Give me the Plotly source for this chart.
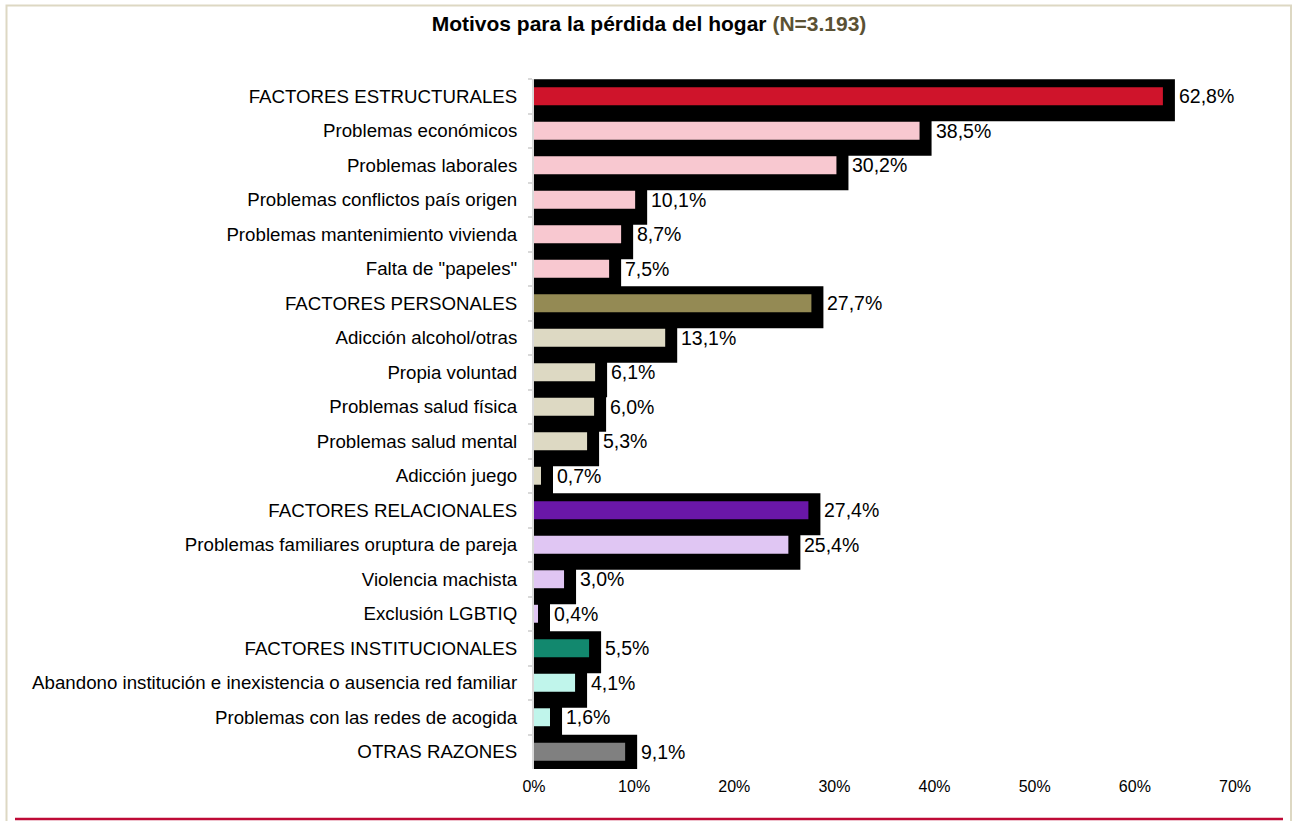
import plotly.graph_objects as go

# ---------------- data ----------------
categories = [
    "FACTORES ESTRUCTURALES",
    "Problemas económicos",
    "Problemas laborales",
    "Problemas conflictos país origen",
    "Problemas mantenimiento vivienda",
    'Falta de "papeles"',
    "FACTORES PERSONALES",
    "Adicción alcohol/otras",
    "Propia voluntad",
    "Problemas salud física",
    "Problemas salud mental",
    "Adicción juego",
    "FACTORES RELACIONALES",
    "Problemas familiares oruptura de pareja",
    "Violencia machista",
    "Exclusión LGBTIQ",
    "FACTORES INSTITUCIONALES",
    "Abandono institución e inexistencia o ausencia red familiar",
    "Problemas con las redes de acogida",
    "OTRAS RAZONES",
]
values = [62.8, 38.5, 30.2, 10.1, 8.7, 7.5,
          27.7, 13.1, 6.1, 6.0, 5.3, 0.7,
          27.4, 25.4, 3.0, 0.4,
          5.5, 4.1, 1.6,
          9.1]
groups = ["estr", "estr_s", "estr_s", "estr_s", "estr_s", "estr_s",
          "pers", "pers_s", "pers_s", "pers_s", "pers_s", "pers_s",
          "rel", "rel_s", "rel_s", "rel_s",
          "inst", "inst_s", "inst_s",
          "otras"]
x_ticks = [0, 10, 20, 30, 40, 50, 60, 70]
x_tick_text = [f"{t}%" for t in x_ticks]

# ---------------- style ----------------
group_colors = {
    "estr": "#cf142b", "estr_s": "#f8c8d0",
    "pers": "#948a54", "pers_s": "#ddd9c3",
    "rel": "#6a17a8", "rel_s": "#e0c6f3",
    "inst": "#12886e", "inst_s": "#c0f5eb",
    "otras": "#808080",
}
bar_colors = [group_colors[g] for g in groups]
SHADOW_DX = 1.2          # shadow extends this far (in axis units) past each bar
FONT = "Liberation Sans, Arial, sans-serif"

W, H = 1294, 821
L, R, T, B = 534, 59, 79, 52
PW, PH = W - L - R, H - T - B

def fx(px):
    return (px - L) / PW

def fy(py):
    return 1 - (py - T) / PH

labels = [f"{v:.1f}".replace(".", ",") + "%" for v in values]

fig = go.Figure()

# black shadow bars
fig.add_trace(go.Bar(
    y=categories, x=[v + SHADOW_DX for v in values], orientation="h",
    width=1.216, offset=-0.492,
    marker=dict(color="black", line=dict(width=0)),
    hoverinfo="skip", showlegend=False,
))
# coloured bars
fig.add_trace(go.Bar(
    y=categories, x=values, orientation="h",
    width=0.52, offset=-0.26,
    marker=dict(color=bar_colors, line=dict(width=0)),
    showlegend=False,
))

for c, v, t in zip(categories, values, labels):
    fig.add_annotation(
        x=v + SHADOW_DX, y=c, xref="x", yref="y",
        text=t, showarrow=False, xanchor="left", yanchor="middle",
        borderpad=0, xshift=3,
        font=dict(family=FONT, size=19.5, color="black"),
    )

# frame lines
fig.add_shape(type="path", xref="paper", yref="paper",
              path=f"M {fx(6.5)} {fy(823)} L {fx(6.5)} {fy(5.5)} L {fx(1291)} {fy(5.5)} L {fx(1291)} {fy(823)}",
              line=dict(color="#ddd8c3", width=2))
fig.add_shape(type="line", xref="paper", yref="paper",
              x0=fx(15), x1=fx(1283), y0=fy(819), y1=fy(819),
              line=dict(color="#be0a37", width=2.5))

fig.update_layout(
    width=W, height=H,
    margin=dict(l=L, r=R, t=T, b=B, autoexpand=False),
    paper_bgcolor="white", plot_bgcolor="white",
    barmode="overlay",
    font=dict(family=FONT, color="black"),
    title=dict(
        text="<b>Motivos para la pérdida del hogar <span style='color:#5a5134'>(N=3.193)</span></b>",
        x=(649 / W), xref="container", xanchor="center",
        y=1 - 24 / H, yref="container", yanchor="middle",
        font=dict(family=FONT, size=21, color="black"),
    ),
    xaxis=dict(
        range=[0, 70], tickmode="array", tickvals=x_ticks, ticktext=x_tick_text,
        showgrid=False, zeroline=False, showline=False, ticks="",
        tickfont=dict(family=FONT, size=16, color="black"),
        ticklabelstandoff=6, fixedrange=True,
    ),
    yaxis=dict(
        type="category", range=[19.5, -0.5],
        showgrid=False, zeroline=False,
        showline=True, linecolor="#d9d9d9", linewidth=2,
        ticks="outside", ticklen=4, tickcolor="#d9d9d9", tickwidth=2,
        tickson="boundaries",
        tickfont=dict(family=FONT, size=18.7, color="black"),
        ticklabelstandoff=11, fixedrange=True,
    ),
)

fig.write_html("out.html", config={"displayModeBar": False},
               post_script="document.body.style.margin='0';document.body.style.overflow='hidden';")
